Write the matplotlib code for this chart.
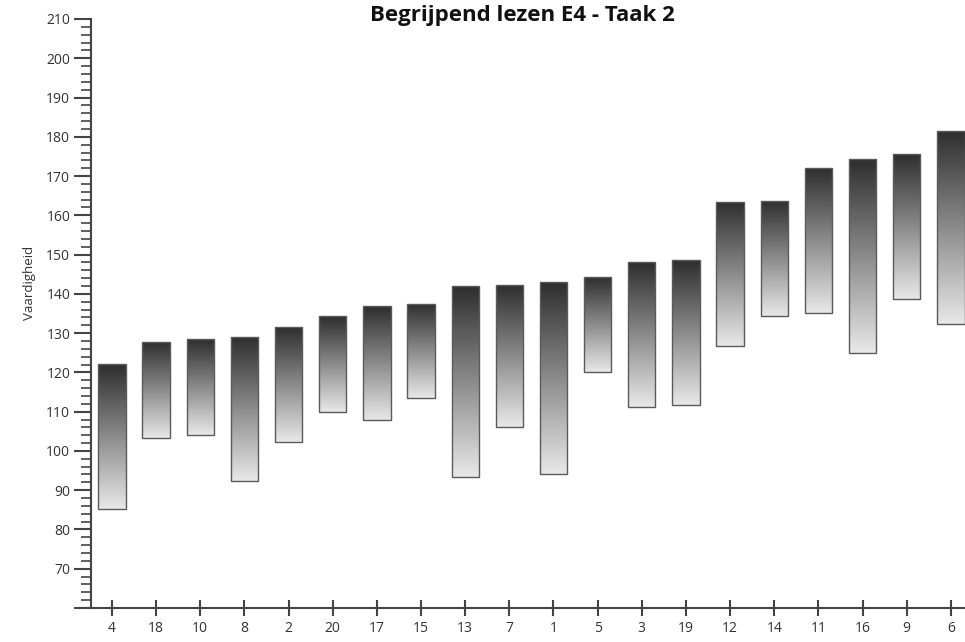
import matplotlib.pyplot as plt
import matplotlib.ticker as ticker
import numpy as np
from matplotlib.colors import LinearSegmentedColormap

# students (sorted by top of range) and their skill ranges
labels = ["4", "18", "10", "8", "2", "20", "17", "15", "13", "7",
          "1", "5", "3", "19", "12", "14", "11", "16", "9", "6"]
tops = [122.2, 127.8, 128.4, 129.0, 131.5, 134.4, 137.0, 137.5, 142.0, 142.3,
        143.0, 144.4, 148.0, 148.5, 163.4, 163.6, 172.1, 174.3, 175.5, 181.4]
bottoms = [85.3, 103.2, 104.0, 92.3, 102.4, 110.0, 108.0, 113.4, 93.4, 106.0,
           94.2, 120.2, 111.3, 111.7, 126.7, 134.3, 135.1, 125.0, 138.7, 132.2]

plt.rcParams['font.family'] = ['Open Sans', 'DejaVu Sans']

fig = plt.figure(figsize=(9.65, 6.42), dpi=100)
ax = fig.add_axes([91 / 965, 1 - 608 / 642, 1 - 91 / 965, (608 - 19) / 642])

x = np.arange(len(labels))
heights = np.array(tops) - np.array(bottoms)
bars = ax.bar(x, heights, bottom=bottoms, width=0.62, facecolor='none',
              edgecolor='#5a5a5a', linewidth=1.0, zorder=3)

cmap = LinearSegmentedColormap.from_list('grad', ['#e8e8e8', '#2e2e2e'])
grad = np.linspace(0, 1, 256).reshape(-1, 1)
for b in bars:
    bx, by = b.get_x(), b.get_y()
    im = ax.imshow(grad, cmap=cmap, origin='lower', aspect='auto',
                   extent=[bx, bx + b.get_width(), by, by + b.get_height()],
                   zorder=2)
    im.set_clip_path(b)

ax.set_xlim(-0.475, 19.32)
ax.set_ylim(60, 210)

ax.set_xticks(x)
ax.set_xticklabels(labels)
yt = np.arange(60, 211, 10)
ax.set_yticks(yt)
ax.set_yticklabels([''] + [str(v) for v in yt[1:]])
ax.yaxis.set_minor_locator(ticker.MultipleLocator(2))

for s in ['top', 'right']:
    ax.spines[s].set_visible(False)
for s in ['left', 'bottom']:
    ax.spines[s].set_color('#444444')
    ax.spines[s].set_linewidth(1.5)

ax.tick_params(axis='y', which='major', length=12, width=1.5, color='#444444',
               labelsize=10, labelcolor='#333333', pad=3)
ax.tick_params(axis='y', which='minor', length=7, width=1.2, color='#444444')
ax.tick_params(axis='x', which='major', direction='inout', length=11, width=1.5,
               color='#444444', labelsize=10, labelcolor='#333333', pad=4)

fig.text(30 / 965, 1 - 283 / 642, 'Vaardigheid', rotation=90, ha='center',
         va='center', fontsize=9.5, color='#333333')
fig.text(522 / 965, 1 - 16 / 642, 'Begrijpend lezen E4 - Taak 2', ha='center',
         va='center', fontsize=16, fontweight='bold', color='#111111')

fig.savefig('out.png', dpi=100)
